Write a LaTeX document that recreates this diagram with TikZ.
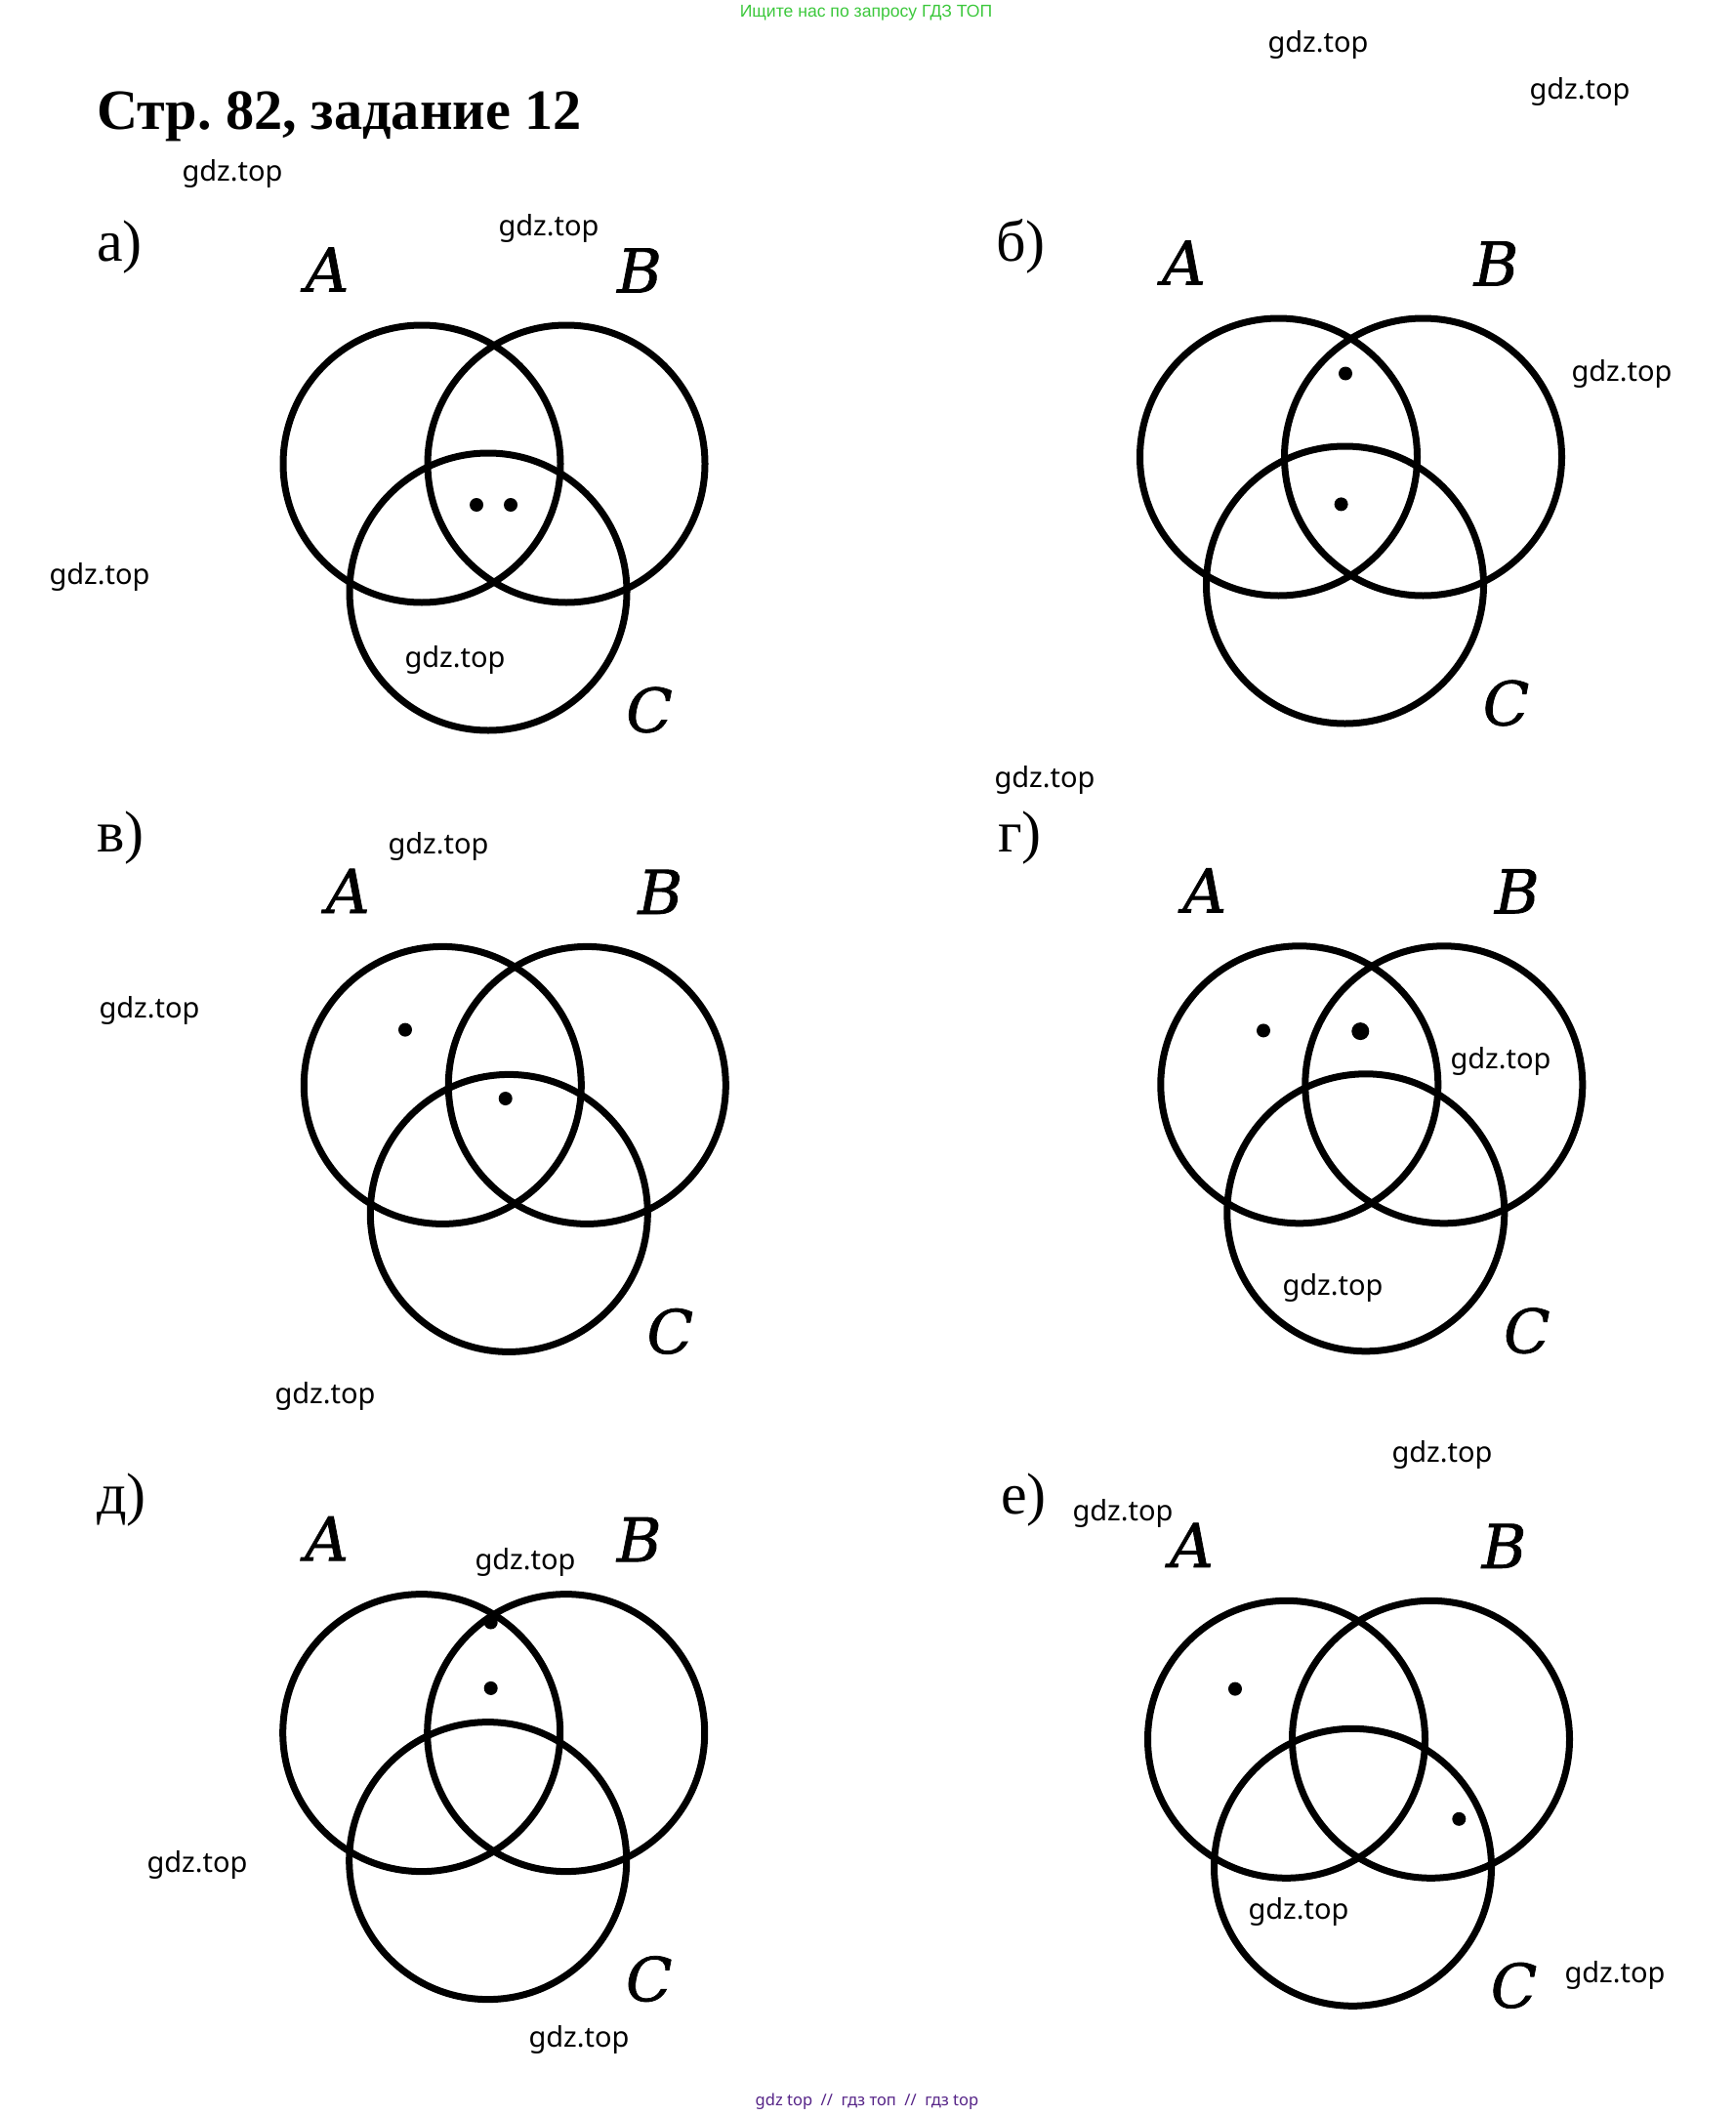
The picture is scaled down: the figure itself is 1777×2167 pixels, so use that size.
\documentclass[tikz,border=0pt]{standalone}
\usepackage{fontspec}
\setmainfont{Liberation Serif}
\newfontfamily\wmfont{Noto Sans}
\newfontfamily\letfont[FakeBold=1.2]{DejaVu Serif}
\newfontfamily\topfont{Liberation Sans}
\definecolor{topgreen}{RGB}{60,200,60}
\definecolor{botpurple}{RGB}{85,35,135}
\frenchspacing
\tikzset{
  venn/.style={draw=black, line width=7pt},
  setlab/.style={inner sep=0pt, font=\letfont\itshape\fontsize{62}{62}\selectfont},
  dotmark/.style={circle, fill=black, inner sep=0pt, minimum size=14pt},
  bigdot/.style={circle, fill=black, inner sep=0pt, minimum size=18pt},
  wm/.style={inner sep=0pt, font=\wmfont\fontsize{29}{29}\selectfont},
  parttag/.style={anchor=base west, inner sep=0pt, font=\fontsize{60}{60}\selectfont},
}
\newcommand\VennDiag[3]{%
  \draw[venn] ({#2},{#3}) circle[radius=142pt];
  \draw[venn] ({#2+148},{#3}) circle[radius=142pt];
  \draw[venn] ({#2+68},{#3+131}) circle[radius=142pt];
  \node[setlab] (#1A) at ({#2-97},{#3-199}) {A};
  \node[setlab] (#1B) at ({#2+148+75},{#3-198}) {B};
  \node[setlab] (#1C) at ({#2+68+165},{#3+131+121}) {C};
}
\begin{document}
\begin{tikzpicture}[x=1pt,y=-1pt]
\useasboundingbox[fill=white] (0,0) rectangle (1777,2167);
% top line
\node[inner sep=0pt, text=topgreen, font=\topfont\fontsize{17.6}{17.6}\selectfont] (toptext) at (887,13) {Ищите нас по запросу ГДЗ ТОП};
\node[anchor=base west, inner sep=0pt, font=\bfseries\fontsize{58.3}{58.3}\selectfont] (title) at (99,133) {Стр. 82, задание 12};
% part tags
\node[parttag] (ta) at (99,267) {а)};
\node[parttag] (tb) at (1020,267) {б)};
\node[parttag] (tv) at (99,872) {в)};
\node[parttag] (tg) at (1022,872) {г)};
\node[parttag] (td) at (99,1550) {д)};
\node[parttag] (te) at (1025,1550) {е)};
% diagrams
\VennDiag{a}{432}{475}
\node[dotmark] (a1) at (488,517) {};
\node[dotmark] (a2) at (523,517) {};
\VennDiag{b}{1309.5}{468}
\node[dotmark] (b1) at (1378,382.5) {};
\node[dotmark] (b2) at (1373.6,516.4) {};
\VennDiag{v}{453.3}{1111.4}
\node[dotmark] (v1) at (415,1054.6) {};
\node[dotmark] (v2) at (517.7,1125) {};
\VennDiag{g}{1330.8}{1110.8}
\node[dotmark] (g1) at (1294,1055.4) {};
\node[bigdot] (g2) at (1393.3,1056.1) {};
\VennDiag{d}{431.7}{1774.6}
\node[dotmark] (d1) at (502.7,1661.5) {};
\node[dotmark] (d2) at (502.7,1728.9) {};
\VennDiag{e}{1317.5}{1781.3}
\node[dotmark] (e1) at (1265,1729.6) {};
\node[dotmark] (e2) at (1494.3,1862.8) {};
% watermarks
\node[wm] (w1) at (1350,46) {gdz.top};
\node[wm] (w2) at (1618,94) {gdz.top};
\node[wm] (w3) at (238,178) {gdz.top};
\node[wm] (w4) at (562,234) {gdz.top};
\node[wm] (w5) at (102,591) {gdz.top};
\node[wm] (w6) at (466,676) {gdz.top};
\node[wm] (w7) at (1661,383) {gdz.top};
\node[wm] (w8) at (1070,799) {gdz.top};
\node[wm] (w9) at (449,867) {gdz.top};
\node[wm] (w10) at (153,1035) {gdz.top};
\node[wm] (w11) at (1537,1087) {gdz.top};
\node[wm] (w12) at (1365,1319) {gdz.top};
\node[wm] (w13) at (333,1430) {gdz.top};
\node[wm] (w14) at (1477,1490) {gdz.top};
\node[wm] (w15) at (1150,1550) {gdz.top};
\node[wm] (w16) at (538,1600) {gdz.top};
\node[wm] (w17) at (202,1910) {gdz.top};
\node[wm] (w18) at (1330,1958) {gdz.top};
\node[wm] (w19) at (1654,2023) {gdz.top};
\node[wm] (w20) at (593,2089) {gdz.top};
% bottom line
\node[inner sep=0pt, text=botpurple, font=\wmfont\fontsize{16.5}{16.5}\selectfont] (bottext) at (888,2152) {gdz top\ \ //\ \ гдз топ\ \ //\ \ гдз top};
\end{tikzpicture}
\end{document}
